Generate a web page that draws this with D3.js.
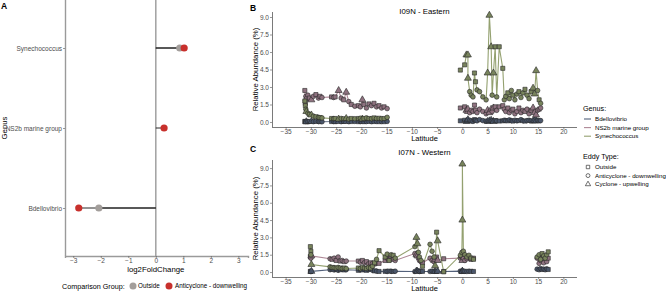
<!DOCTYPE html>
<html><head><meta charset="utf-8">
<script src="https://cdn.jsdelivr.net/npm/d3@7"></script>
<style>
html,body{margin:0;padding:0;background:#fff;}
svg{display:block;font-family:"Liberation Sans",Arial,sans-serif;}
</style></head>
<body><svg id="c" width="666" height="292"></svg>
<script>
// ---------- Panel A data ----------
const generaA = ["Synechococcus", "NS2b marine group", "Bdellovibrio"];
const lfcOutside = [0.87, null, -2.07];
const lfcAnticyclone = [1.03, 0.3, -2.8];
const ticksA = [-3, -2, -1, 0, 1, 2, 3];
const groupsA = ["Outside", "Anticyclone - downwelling"];

// ---------- Panel B (I09N - Eastern) ----------
const B_lat = [-31.2,-31.1,-31.0,-30.9,-30.6,-30.3,-29.9,-29.5,-29.0,-28.5,-28.2,-27.8,-25.9,-25.5,-25.2,-24.5,-24.0,-23.5,-23.0,-22.5,-22.0,-21.3,-20.6,-20.2,-19.8,-19.5,-19.0,-18.5,-18.0,-17.5,-17.0,-16.5,-16.0,-15.5,-14.9,
 -0.4,0.45,0.8,1.1,1.1,1.45,1.75,2.1,2.4,2.6,2.9,3.4,4.05,4.7,5.0,5.35,5.7,5.9,6.15,6.5,6.8,7.3,8.0,8.3,8.6,9.0,9.3,9.7,10.0,10.4,10.8,11.2,11.6,12.0,12.4,12.8,13.2,13.6,14.0,14.3,14.6,14.9,15.2,15.5];
const B_eddy = ["O","O","A","C","A","O","C","A","O","A","O","A","O","A","O","C","A","O","C","A","O","A","O","A","C","O","A","O","A","O","A","O","A","O","A",
 "O","O","C","C","C","A","A","A","O","O","A","A","A","A","C","C","C","A","C","O","A","O","O","A","A","O","A","A","O","A","A","O","A","A","O","A","A","O","C","C","C","A","O","A"];
const B_syn = [1.8,1.4,1.1,0.9,0.75,0.65,0.6,0.5,0.45,0.4,0.38,0.35,0.3,0.28,0.3,0.25,0.3,0.28,0.3,0.25,0.3,0.28,0.3,0.32,0.25,0.3,0.35,0.3,0.28,0.35,0.3,0.32,0.28,0.3,0.4,
 4.45,4.9,5.75,5.75,3.75,2.6,2.3,2.15,4.2,3.45,2.75,2.6,2.15,1.9,4.2,9.15,6.45,2.3,4.2,6.45,2.15,6.45,4.6,1.9,2.2,2.5,2.0,2.7,2.3,1.9,2.4,2.6,2.1,2.5,2.8,2.3,2.0,2.6,2.9,2.4,4.4,2.7,1.9,1.6];
const B_ns2b = [2.7,1.6,2.2,2.0,2.3,2.05,1.9,2.2,2.35,2.05,2.2,2.1,2.15,2.1,2.15,2.7,2.05,1.9,2.55,1.75,1.5,1.35,1.4,1.3,1.9,1.5,1.2,1.55,1.4,1.6,1.3,1.4,1.2,1.3,1.15,
 1.2,1.3,1.0,0.9,1.1,0.8,1.0,0.9,1.45,1.0,0.8,1.1,0.9,0.7,1.0,0.8,1.1,0.9,1.2,1.3,1.0,1.3,1.4,1.1,0.9,1.2,0.8,1.0,1.1,0.7,0.9,1.2,0.8,1.0,0.9,1.1,0.7,1.0,1.2,0.8,0.6,1.0,1.1,1.2];
const B_bdello = [0.05,0.03,0.04,0.02,0.03,0.05,0.04,0.03,0.05,0.04,0.03,0.02,0.04,0.05,0.03,0.04,0.03,0.05,0.04,0.03,0.04,0.05,0.03,0.04,0.06,0.03,0.04,0.05,0.03,0.04,0.05,0.03,0.04,0.03,0.05,
 0.1,0.15,0.05,0.1,0.2,0.15,0.1,0.05,0.2,0.15,0.1,0.2,0.12,0.08,0.05,0.1,0.15,0.1,0.05,0.12,0.1,0.08,0.1,0.15,0.12,0.1,0.18,0.12,0.08,0.15,0.1,0.12,0.2,0.1,0.08,0.12,0.15,0.1,0.08,0.12,0.1,0.15,0.1,0.12];

// ---------- Panel C (I07N - Western) ----------
const C_lat = [-30.1,-30.0,-30.0,-29.9,-26.2,-25.8,-25.4,-25.0,-24.6,-24.2,-23.8,-23.4,-23.0,-20.6,-20.2,-19.8,-19.4,-19.0,-18.6,-18.2,-17.8,-17.4,-17.0,-16.5,-15.3,-14.9,-14.5,-14.1,-13.7,-13.3,-9.4,-9.1,-8.9,-8.7,-8.5,-8.2,-7.9,-6.4,-6.0,-5.6,-5.4,-5.1,-4.9,-3.7,-0.4,-0.1,0.0,0.0,0.2,0.5,0.9,1.3,1.7,2.2,14.8,15.2,15.5,15.8,16.1,16.4,16.7,17.0];
const C_eddy = ["O","O","A","C","A","O","A","O","A","O","A","O","A","O","A","O","A","O","A","O","A","O","A","O","O","A","O","A","O","A","A","C","C","A","A","A","O","A","A","A","C","O","C","O","A","A","C","C","A","A","A","A","O","O","A","A","A","O","A","A","A","O"];
const C_syn = [2.2,1.8,1.5,0.65,0.45,0.4,0.38,0.35,0.4,0.35,0.3,0.35,0.3,0.35,0.3,0.4,0.35,0.3,0.4,0.35,0.5,0.8,1.1,1.85,1.3,1.55,1.0,1.5,1.45,1.2,2.2,3.0,2.45,1.7,1.3,1.0,0.5,2.4,1.8,1.3,0.55,3.45,2.7,0.02,1.45,1.7,4.5,9.35,1.8,1.5,1.3,1.45,1.2,1.1,1.3,1.5,1.1,1.6,1.4,1.2,1.5,1.75];
const C_ns2b = [1.35,1.3,1.2,1.4,1.15,1.1,1.2,1.0,1.3,0.95,1.0,0.9,0.95,0.95,0.85,1.0,0.8,0.9,0.7,0.8,0.75,0.7,0.8,0.75,1.0,1.2,1.05,1.3,1.1,1.0,1.6,1.5,1.4,1.2,1.0,0.9,0.8,1.2,1.0,0.9,1.1,1.3,1.0,1.15,1.2,1.3,1.0,1.4,1.2,1.0,1.15,1.3,1.1,1.2,1.2,0.75,1.0,1.2,0.8,1.3,0.9,1.2];
const C_bdello = [0.05,0.08,0.04,0.06,0.2,0.25,0.18,0.22,0.15,0.2,0.25,0.18,0.2,0.15,0.2,0.18,0.22,0.15,0.2,0.25,0.15,0.1,0.08,0.05,0.06,0.05,0.08,0.06,0.05,0.07,0.05,0.08,0.06,0.1,0.05,0.07,0.06,0.05,0.08,0.06,0.05,0.07,0.06,0.05,0.08,0.06,0.05,0.07,0.08,0.06,0.05,0.07,0.06,0.05,0.25,0.2,0.3,0.22,0.25,0.2,0.28,0.22];

const latTicks = [-35,-30,-25,-20,-15,-10,-5,0,5,10,15,20];
const abTicks = [0, 1.5, 3, 4.5, 6, 7.5, 9];
const genusNames = ["Bdellovibrio", "NS2b marine group", "Synechococcus"];
const eddyCodes = ["O", "A", "C"];
const eddyNames = ["Outside", "Anticyclone - downwelling", "Cyclone - upwelling"];

// ---------- styles ----------
const genusColor = {"Bdellovibrio":"#53617b","NS2b marine group":"#ae8796","Synechococcus":"#94a170"};
const pointFill = {"Bdellovibrio":"#4a566b","NS2b marine group":"#8f7280","Synechococcus":"#78845c"};
const groupColor = {"Outside":"#a39e9b","Anticyclone - downwelling":"#c8302c"};
const symType = {"O":d3.symbolSquare,"A":d3.symbolCircle,"C":d3.symbolTriangle};
const symSize = {"O":17,"A":17,"C":21};
const tickCol = "#4d4d4d";

const svg = d3.select("#c");

// ================= Panel A =================
const xA = d3.scaleLinear().domain([-3.3, 3.35]).range([65, 248]);
const yA = d3.scalePoint().domain(generaA).range([0, 256]).padding(0.6);
const gA = svg.append("g");
gA.append("line").attr("x1", xA(0)).attr("x2", xA(0)).attr("y1", 0).attr("y2", 256)
  .attr("stroke", "#9a9a9a").attr("stroke-width", 1.4);
const axAx = gA.append("g").attr("transform","translate(0,256)")
  .call(d3.axisBottom(xA).tickValues(ticksA).tickSize(2).tickPadding(0.5).tickFormat(d3.format("d")));
const axAy = gA.append("g").attr("transform","translate(65,0)")
  .call(d3.axisLeft(yA).tickSize(2).tickPadding(1));
[axAx, axAy].forEach(a => {
  a.select(".domain").attr("stroke","#9a9a9a").attr("stroke-width",1.4);
  a.selectAll(".tick line").attr("stroke","#555").attr("stroke-width",0.6);
  a.selectAll(".tick text").attr("fill", tickCol).style("font-size","6.5px").style("font-family","Liberation Sans, Arial, sans-serif");
});
axAy.select(".domain").attr("d","M0.5,0V256");
generaA.forEach((g, i) => {
  [lfcOutside[i], lfcAnticyclone[i]].forEach(v => {
    if (v === null) return;
    gA.append("line").attr("x1", xA(0)).attr("x2", xA(v)).attr("y1", yA(g)).attr("y2", yA(g))
      .attr("stroke", "#111").attr("stroke-width", 0.9);
  });
});
generaA.forEach((g, i) => {
  if (lfcOutside[i] !== null)
    gA.append("circle").attr("cx", xA(lfcOutside[i])).attr("cy", yA(g)).attr("r", 3.6).attr("fill", groupColor["Outside"]);
  if (lfcAnticyclone[i] !== null)
    gA.append("circle").attr("cx", xA(lfcAnticyclone[i])).attr("cy", yA(g)).attr("r", 3.6).attr("fill", groupColor["Anticyclone - downwelling"]);
});
gA.append("text").attr("x", xA(0)).attr("y", 272).attr("text-anchor","middle").style("font-size","7.8px").text("log2FoldChange");
gA.append("text").attr("transform","translate(7,128) rotate(-90)").attr("text-anchor","middle").style("font-size","7.8px").text("Genus");
gA.append("text").attr("x", 1).attr("y", 9).style("font-size","8.5px").style("font-weight","bold").text("A");
const legA = gA.append("g");
legA.append("text").attr("x", 62).attr("y", 288.5).style("font-size","7.2px").text("Comparison Group:");
const legPos = [[133, 138], [169, 175]];
groupsA.forEach((gname, i) => {
  legA.append("circle").attr("cx", legPos[i][0]).attr("cy", 286).attr("r", 3.5).attr("fill", groupColor[gname]);
  legA.append("text").attr("x", legPos[i][1]).attr("y", 288.3).style("font-size","6.3px").text(gname);
});

// ================= Panels B & C =================
const xL = d3.scaleLinear().domain([-37.7, 22.7]).range([272, 577]);

function drawPanel(cfg) {
  const y = d3.scaleLinear().domain(cfg.yDomain).range(cfg.yRange);
  const g = svg.append("g");
  const bottom = cfg.yRange[0];
  const ax = g.append("g").attr("transform", `translate(0,${bottom})`)
    .call(d3.axisBottom(xL).tickValues(latTicks).tickSize(2).tickPadding(0).tickFormat(d3.format("d")));
  const ay = g.append("g").attr("transform", "translate(272,0)")
    .call(d3.axisLeft(y).tickValues(abTicks).tickSize(2).tickPadding(1).tickFormat(d3.format(".1f")));
  [ax, ay].forEach(a => {
    a.select(".domain").attr("stroke","#7a7a7a").attr("stroke-width",1);
    a.selectAll(".tick line").attr("stroke","#555").attr("stroke-width",0.6);
    a.selectAll(".tick text").attr("fill", tickCol).style("font-size","6.5px").style("font-family","Liberation Sans, Arial, sans-serif");
  });
  ax.select(".domain").attr("d", `M272,0.5H577`);
  ay.select(".domain").attr("d", `M0.5,${cfg.yRange[1]}V${bottom}`);

  const series = genusNames.map((name, k) => {
    const vals = cfg.values[k];
    const pts = cfg.lat.map((la, i) => ({lat: la, v: vals[i], e: cfg.eddy[i], idx: i}));
    pts.sort((a, b) => a.lat - b.lat || a.idx - b.idx);
    return {name, pts};
  });
  const line = d3.line().x(d => xL(d.lat)).y(d => y(d.v));
  series.forEach(s => {
    const segs = [];
    let cur = [];
    s.pts.forEach((p, i) => {
      if (i > 0 && p.lat - s.pts[i-1].lat > 5) { segs.push(cur); cur = []; }
      cur.push(p);
    });
    segs.push(cur);
    segs.forEach(seg => {
      g.append("path").attr("d", line(seg)).attr("fill","none")
        .attr("stroke", genusColor[s.name]).attr("stroke-width", 1.1);
    });
  });
  series.forEach(s => {
    s.pts.forEach(p => {
      g.append("path").attr("d", d3.symbol().type(symType[p.e]).size(symSize[p.e])())
        .attr("transform", `translate(${xL(p.lat)},${y(p.v)})`)
        .attr("fill", pointFill[s.name]).attr("stroke", "#262626").attr("stroke-width", 0.6);
    });
  });
  g.append("text").attr("x", xL(-7.5)).attr("y", cfg.titleY).attr("text-anchor","middle").style("font-size","7.8px").text(cfg.title);
  g.append("text").attr("x", 250).attr("y", cfg.titleY - 3).style("font-size","8.5px").style("font-weight","bold").text(cfg.letter);
  g.append("text").attr("x", xL(-7.5)).attr("y", bottom + 14.3).attr("text-anchor","middle").style("font-size","7.5px").text("Latitude");
  g.append("text").attr("transform", `translate(258,${(cfg.yRange[0] + cfg.yRange[1]) / 2}) rotate(-90)`)
    .attr("text-anchor","middle").style("font-size","7.8px").text("Relative Abundance (%)");
}

drawPanel({lat: B_lat, eddy: B_eddy, values: [B_bdello, B_ns2b, B_syn],
  yDomain: [-0.43, 9.43], yRange: [127, 12], title: "I09N - Eastern", titleY: 14, letter: "B"});
drawPanel({lat: C_lat, eddy: C_eddy, values: [C_bdello, C_ns2b, C_syn],
  yDomain: [-0.43, 9.7], yRange: [277, 160], title: "I07N - Western", titleY: 155, letter: "C"});

// ---------- Legends (Genus, Eddy Type) ----------
const lg = svg.append("g");
lg.append("text").attr("x", 583).attr("y", 111).style("font-size","7.2px").text("Genus:");
genusNames.forEach((n, i) => {
  const yy = 119 + i * 8.6;
  lg.append("line").attr("x1", 584).attr("x2", 591).attr("y1", yy).attr("y2", yy)
    .attr("stroke", genusColor[n]).attr("stroke-width", 1.1);
  lg.append("text").attr("x", 595).attr("y", yy + 2.2).style("font-size","6.2px").text(n);
});
lg.append("text").attr("x", 583).attr("y", 159).style("font-size","7.2px").text("Eddy Type:");
eddyCodes.forEach((c, i) => {
  const yy = 167 + i * 8.6;
  lg.append("path").attr("d", d3.symbol().type(symType[c]).size(12)())
    .attr("transform", `translate(588,${yy})`).attr("fill","none").attr("stroke","#333").attr("stroke-width",0.7);
  lg.append("text").attr("x", 595).attr("y", yy + 2.2).style("font-size","6.2px").text(eddyNames[i]);
});
</script>
</body></html>
